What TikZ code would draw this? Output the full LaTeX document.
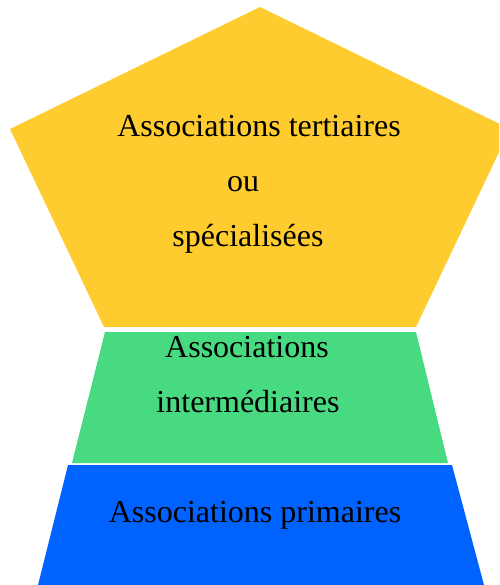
\documentclass[tikz,border=0pt]{standalone}
\usepackage{fontspec}
\setmainfont{Liberation Serif}
\usepackage{tikz}
\usetikzlibrary{positioning}

\definecolor{tiercol}{HTML}{FFCC30}
\definecolor{intcol}{HTML}{48DA80}
\definecolor{primcol}{HTML}{0062FF}

\begin{document}
\begin{tikzpicture}[x=1pt, y=-1pt,
  layer/.style = {draw=none},
  lbl/.style = {anchor=base, inner sep=0pt, font=\fontsize{32}{36}\selectfont}]
\useasboundingbox (0,0) rectangle (499,585);
\clip (0,0) rectangle (499,585);
% the three layers
\fill[tiercol, layer] (260,7) -- (10,129) -- (104,327) -- (416,327) -- (510,129) -- cycle;
\fill[intcol, layer] (105,332) -- (416,332) -- (448,463) -- (72,463) -- cycle;
\fill[primcol, layer] (68,465) -- (452,465) -- (484,585) -- (38,585) -- cycle;
% labels
\node[lbl] (t1) at (259,137) {Associations tertiaires};
\node[lbl] (t2) at (243,192) {ou};
\node[lbl] (t3) at (248,246) {spécialisées};
\node[lbl] (i1) at (247,357) {Associations};
\node[lbl] (i2) at (248,412) {intermédiaires};
\node[lbl] (p1) at (255,522) {Associations primaires};
\end{tikzpicture}
\end{document}
